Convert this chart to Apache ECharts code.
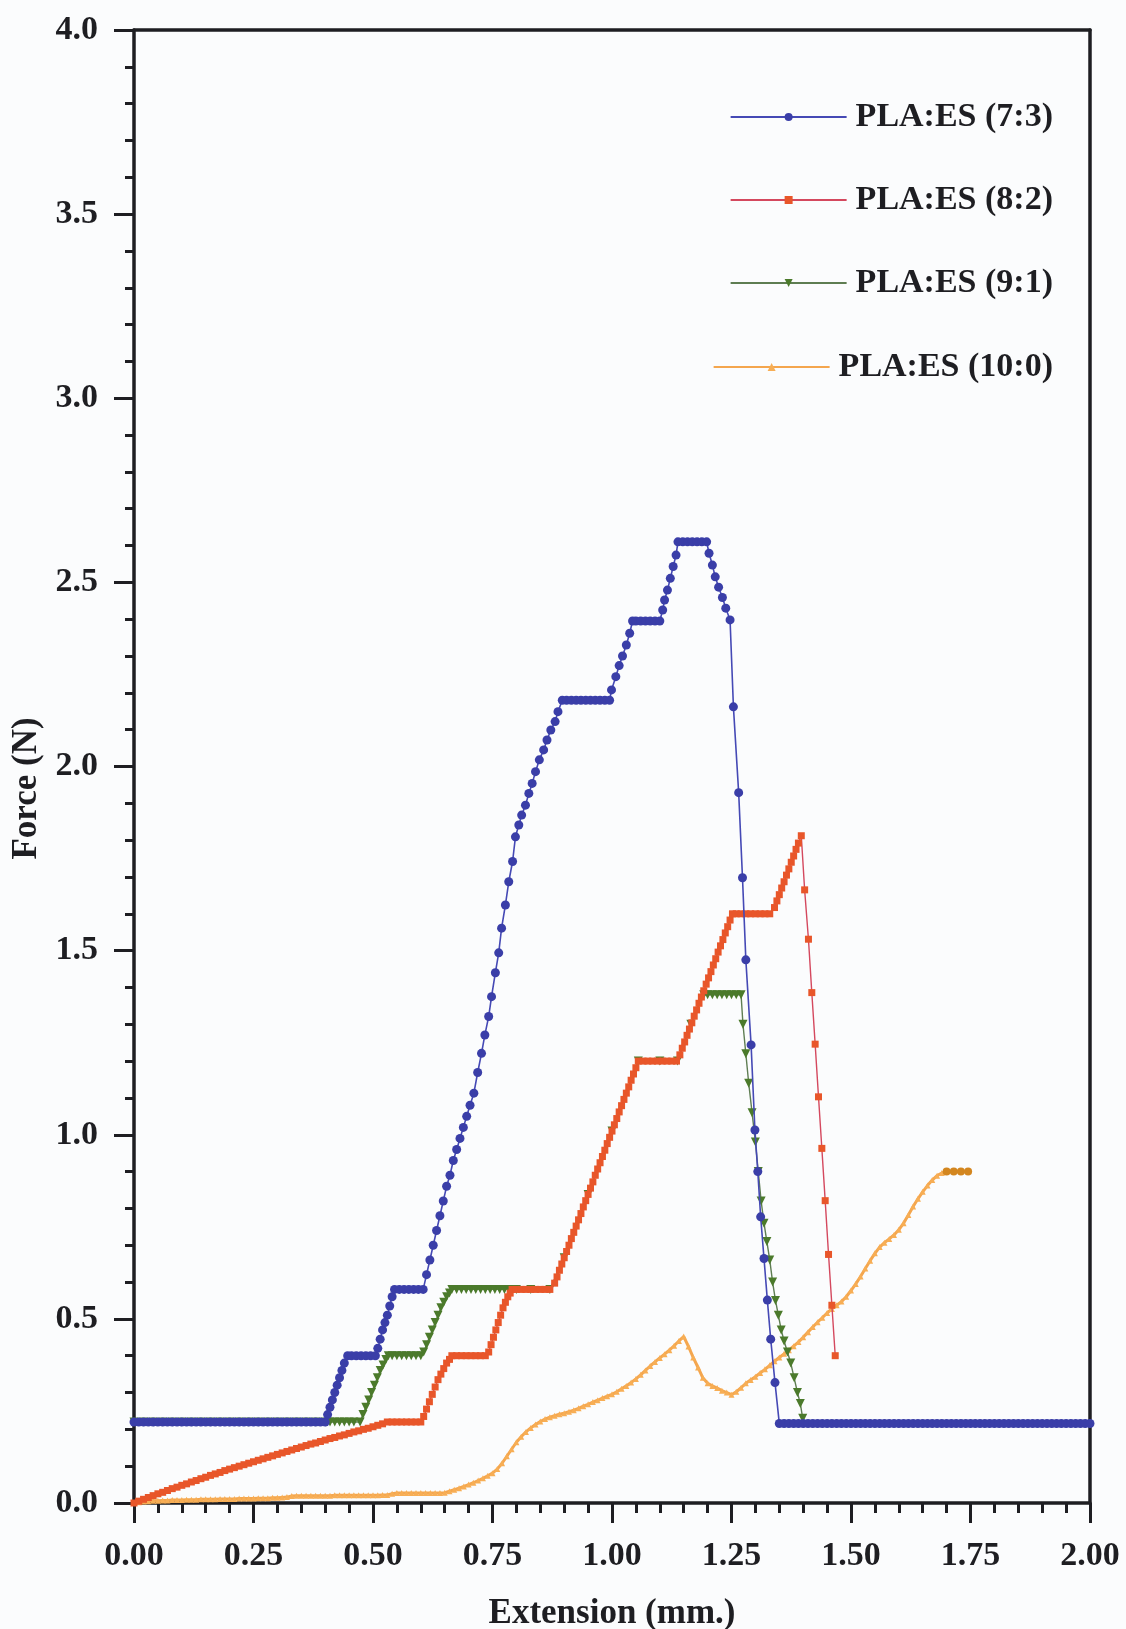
<!DOCTYPE html>
<html>
<head>
<meta charset="utf-8">
<script src="https://cdn.jsdelivr.net/npm/echarts@6/dist/echarts.min.js"></script>
<style>
html,body{margin:0;padding:0;background:#fbfcfd;}
#chart{width:1126px;height:1629px;}
</style>
</head>
<body>
<div id="chart"></div>
<script>
// ---- data (Extension mm, Force N) ----
const seriesNames = ['PLA:ES (7:3)', 'PLA:ES (8:2)', 'PLA:ES (9:1)', 'PLA:ES (10:0)'];

const pla73 = [
[0.00,0.22],[0.01,0.22],[0.02,0.22],[0.03,0.22],[0.04,0.22],[0.05,0.22],[0.06,0.22],[0.07,0.22],[0.08,0.22],[0.09,0.22],
[0.10,0.22],[0.11,0.22],[0.12,0.22],[0.13,0.22],[0.14,0.22],[0.15,0.22],[0.16,0.22],[0.17,0.22],[0.18,0.22],[0.19,0.22],
[0.20,0.22],[0.21,0.22],[0.22,0.22],[0.23,0.22],[0.24,0.22],[0.25,0.22],[0.26,0.22],[0.27,0.22],[0.28,0.22],[0.29,0.22],
[0.30,0.22],[0.31,0.22],[0.32,0.22],[0.33,0.22],[0.34,0.22],[0.35,0.22],[0.36,0.22],[0.37,0.22],[0.38,0.22],[0.39,0.22],[0.40,0.22],
[0.405,0.24],[0.41,0.26],[0.415,0.28],[0.42,0.30],[0.425,0.32],[0.43,0.34],[0.435,0.36],[0.44,0.38],[0.447,0.40],
[0.455,0.40],[0.465,0.40],[0.475,0.40],[0.485,0.40],[0.495,0.40],[0.505,0.40],
[0.51,0.42],[0.515,0.445],[0.52,0.47],[0.525,0.49],[0.53,0.51],[0.535,0.535],[0.54,0.56],[0.545,0.58],
[0.555,0.58],[0.565,0.58],[0.575,0.58],[0.585,0.58],[0.595,0.58],[0.605,0.58],
[0.612,0.62],[0.619,0.66],[0.626,0.70],[0.633,0.74],[0.640,0.78],[0.647,0.82],[0.654,0.86],[0.661,0.89],[0.668,0.93],
[0.675,0.96],[0.682,0.99],[0.689,1.02],[0.696,1.05],[0.703,1.08],
[0.711,1.113],[0.719,1.169],[0.727,1.221],[0.734,1.271],[0.742,1.321],[0.748,1.375],[0.756,1.44],[0.763,1.494],
[0.769,1.561],[0.777,1.624],[0.784,1.687],[0.792,1.742],[0.798,1.809],[0.805,1.841],[0.811,1.868],[0.819,1.895],
[0.826,1.927],[0.833,1.954],[0.840,1.986],[0.848,2.018],[0.857,2.045],[0.864,2.072],[0.872,2.099],[0.881,2.122],
[0.887,2.149],[0.896,2.18],
[0.905,2.18],[0.915,2.18],[0.925,2.18],[0.935,2.18],[0.945,2.18],[0.955,2.18],[0.965,2.18],[0.975,2.18],[0.985,2.18],[0.995,2.18],
[0.999,2.208],[1.008,2.244],[1.015,2.274],[1.022,2.30],[1.030,2.33],[1.037,2.362],[1.043,2.395],
[1.05,2.395],[1.06,2.395],[1.07,2.395],[1.08,2.395],[1.09,2.395],[1.10,2.395],
[1.106,2.425],[1.110,2.452],[1.116,2.479],[1.122,2.511],[1.128,2.543],[1.134,2.574],[1.138,2.61],
[1.148,2.61],[1.158,2.61],[1.168,2.61],[1.178,2.61],[1.188,2.61],[1.198,2.61],
[1.203,2.579],[1.210,2.547],[1.216,2.515],[1.223,2.487],[1.231,2.459],[1.238,2.43],[1.247,2.398],
[1.254,2.162],[1.265,1.929],[1.273,1.698],[1.280,1.475],[1.291,1.244],[1.299,1.013],
[1.305,0.90],[1.311,0.777],[1.318,0.664],[1.325,0.551],[1.332,0.445],[1.341,0.327],[1.350,0.216],
[1.36,0.216],[1.37,0.216],[1.38,0.216],[1.39,0.216],[1.40,0.216],[1.41,0.216],[1.42,0.216],[1.43,0.216],[1.44,0.216],
[1.45,0.216],[1.46,0.216],[1.47,0.216],[1.48,0.216],[1.49,0.216],[1.50,0.216],[1.51,0.216],[1.52,0.216],[1.53,0.216],
[1.54,0.216],[1.55,0.216],[1.56,0.216],[1.57,0.216],[1.58,0.216],[1.59,0.216],[1.60,0.216],[1.61,0.216],[1.62,0.216],
[1.63,0.216],[1.64,0.216],[1.65,0.216],[1.66,0.216],[1.67,0.216],[1.68,0.216],[1.69,0.216],[1.70,0.216],[1.71,0.216],
[1.72,0.216],[1.73,0.216],[1.74,0.216],[1.75,0.216],[1.76,0.216],[1.77,0.216],[1.78,0.216],[1.79,0.216],[1.80,0.216],
[1.81,0.216],[1.82,0.216],[1.83,0.216],[1.84,0.216],[1.85,0.216],[1.86,0.216],[1.87,0.216],[1.88,0.216],[1.89,0.216],
[1.90,0.216],[1.91,0.216],[1.92,0.216],[1.93,0.216],[1.94,0.216],[1.95,0.216],[1.96,0.216],[1.97,0.216],[1.98,0.216],
[1.99,0.216],[2.00,0.216]
];

const pla82 = [
[0.00,0.000],[0.01,0.005],[0.02,0.010],[0.03,0.015],[0.04,0.020],[0.05,0.025],[0.06,0.029],[0.07,0.034],[0.08,0.039],[0.09,0.043],
[0.10,0.048],[0.11,0.052],[0.12,0.057],[0.13,0.061],[0.14,0.066],[0.15,0.070],[0.16,0.075],[0.17,0.079],[0.18,0.083],[0.19,0.088],
[0.20,0.092],[0.21,0.096],[0.22,0.100],[0.23,0.104],[0.24,0.108],[0.25,0.112],[0.26,0.116],[0.27,0.120],[0.28,0.124],[0.29,0.128],
[0.30,0.132],[0.31,0.136],[0.32,0.140],[0.33,0.144],[0.34,0.148],[0.35,0.152],[0.36,0.156],[0.37,0.160],[0.38,0.163],[0.39,0.167],
[0.40,0.171],[0.41,0.175],[0.42,0.178],[0.43,0.182],[0.44,0.185],[0.45,0.189],[0.46,0.193],[0.47,0.196],[0.48,0.200],[0.49,0.203],
[0.50,0.207],[0.51,0.211],[0.52,0.215],[0.53,0.220],
[0.54,0.22],[0.55,0.22],[0.56,0.22],[0.57,0.22],[0.58,0.22],[0.59,0.22],[0.60,0.22],
[0.606,0.235],[0.612,0.255],[0.618,0.275],[0.624,0.295],[0.630,0.315],[0.636,0.335],[0.642,0.35],[0.648,0.365],[0.654,0.38],[0.660,0.39],[0.665,0.40],
[0.675,0.40],[0.685,0.40],[0.695,0.40],[0.705,0.40],[0.715,0.40],[0.725,0.40],[0.735,0.40],
[0.742,0.41],[0.747,0.43],[0.752,0.45],[0.757,0.47],[0.762,0.49],[0.767,0.51],[0.772,0.53],[0.777,0.545],[0.782,0.56],[0.787,0.57],[0.791,0.58],
[0.80,0.58],[0.81,0.58],[0.82,0.58],[0.83,0.58],[0.84,0.58],[0.85,0.58],[0.86,0.58],[0.87,0.58],
[0.880,0.597],[0.885,0.614],[0.890,0.632],[0.895,0.649],[0.900,0.666],[0.905,0.683],[0.910,0.700],[0.915,0.718],[0.920,0.735],
[0.925,0.752],[0.930,0.769],[0.935,0.786],[0.940,0.804],[0.945,0.821],[0.950,0.838],[0.955,0.855],[0.960,0.872],[0.965,0.890],
[0.970,0.907],[0.975,0.924],[0.980,0.941],[0.985,0.958],[0.990,0.976],[0.995,0.993],[1.000,1.010],[1.005,1.027],[1.010,1.044],
[1.015,1.062],[1.020,1.079],[1.025,1.096],[1.030,1.113],[1.035,1.130],[1.040,1.148],[1.045,1.165],[1.050,1.182],[1.055,1.200],
[1.065,1.20],[1.075,1.20],[1.085,1.20],[1.095,1.20],[1.105,1.20],[1.115,1.20],[1.125,1.20],[1.135,1.20],
[1.142,1.217],[1.147,1.235],[1.152,1.252],[1.157,1.270],[1.162,1.287],[1.167,1.304],[1.172,1.322],[1.177,1.339],[1.182,1.357],
[1.187,1.374],[1.192,1.391],[1.197,1.409],[1.202,1.426],[1.207,1.443],[1.212,1.461],[1.217,1.478],[1.222,1.496],[1.227,1.513],
[1.232,1.530],[1.237,1.548],[1.242,1.565],[1.247,1.583],[1.252,1.600],
[1.26,1.60],[1.27,1.60],[1.28,1.60],[1.29,1.60],[1.30,1.60],[1.31,1.60],[1.32,1.60],[1.33,1.60],
[1.340,1.617],[1.345,1.635],[1.350,1.652],[1.355,1.670],[1.360,1.687],[1.365,1.705],[1.370,1.722],[1.375,1.740],[1.380,1.757],
[1.385,1.775],[1.390,1.792],[1.396,1.812],
[1.403,1.665],[1.411,1.531],[1.418,1.386],[1.425,1.246],[1.432,1.103],[1.439,0.963],[1.446,0.821],[1.453,0.675],[1.460,0.537],[1.467,0.40]
];

const pla91 = [
[0.00,0.22],[0.02,0.22],[0.04,0.22],[0.06,0.22],[0.08,0.22],[0.10,0.22],[0.12,0.22],[0.14,0.22],[0.16,0.22],[0.18,0.22],
[0.20,0.22],[0.22,0.22],[0.24,0.22],[0.26,0.22],[0.28,0.22],[0.30,0.22],[0.32,0.22],[0.34,0.22],[0.36,0.22],[0.38,0.22],
[0.40,0.22],[0.41,0.22],[0.42,0.22],[0.43,0.22],[0.44,0.22],[0.45,0.22],[0.46,0.22],[0.473,0.22],
[0.479,0.24],[0.485,0.26],[0.491,0.28],[0.497,0.30],[0.503,0.32],[0.509,0.34],[0.515,0.36],[0.521,0.375],[0.527,0.39],[0.532,0.40],
[0.54,0.40],[0.55,0.40],[0.56,0.40],[0.57,0.40],[0.58,0.40],[0.59,0.40],[0.60,0.40],
[0.606,0.41],[0.612,0.43],[0.618,0.45],[0.624,0.47],[0.630,0.49],[0.636,0.51],[0.642,0.53],[0.648,0.545],[0.654,0.56],[0.660,0.57],[0.665,0.58],
[0.675,0.58],[0.685,0.58],[0.695,0.58],[0.705,0.58],[0.715,0.58],[0.725,0.58],[0.735,0.58],[0.745,0.58],[0.755,0.58],[0.765,0.58],
[0.775,0.58],[0.785,0.58],[0.80,0.58],[0.83,0.58],[0.87,0.58],
[0.90,0.666],[0.95,0.838],[1.00,1.010],[1.055,1.20],[1.10,1.20],[1.137,1.20],[1.165,1.30],[1.192,1.38],
[1.20,1.38],[1.21,1.38],[1.22,1.38],[1.23,1.38],[1.24,1.38],[1.25,1.38],[1.26,1.38],[1.27,1.38],
[1.274,1.30],[1.280,1.22],[1.286,1.14],[1.293,1.06],[1.300,0.98],[1.306,0.90],[1.312,0.82],[1.318,0.76],[1.324,0.71],
[1.330,0.66],[1.336,0.60],[1.342,0.55],[1.348,0.51],[1.354,0.47],[1.360,0.44],[1.367,0.41],[1.374,0.38],[1.381,0.34],
[1.388,0.30],[1.394,0.27],[1.399,0.23]
];

const pla100 = [
[0.00,0.000],[0.01,0.002],[0.02,0.004],[0.03,0.005],[0.04,0.006],[0.05,0.006],[0.06,0.007],[0.07,0.007],[0.08,0.008],[0.09,0.008],
[0.10,0.008],[0.11,0.009],[0.12,0.009],[0.13,0.009],[0.14,0.010],[0.15,0.010],[0.16,0.010],[0.17,0.010],[0.18,0.011],[0.19,0.011],
[0.20,0.011],[0.21,0.011],[0.22,0.012],[0.23,0.012],[0.24,0.012],[0.25,0.012],[0.26,0.013],[0.27,0.013],[0.28,0.013],[0.29,0.014],
[0.30,0.014],[0.31,0.015],[0.32,0.016],[0.33,0.019],[0.34,0.020],[0.35,0.020],[0.36,0.020],[0.37,0.020],[0.38,0.020],[0.39,0.020],
[0.40,0.020],[0.41,0.020],[0.42,0.021],[0.43,0.021],[0.44,0.021],[0.45,0.021],[0.46,0.021],[0.47,0.021],[0.48,0.021],[0.49,0.021],
[0.50,0.021],[0.51,0.021],[0.52,0.022],[0.53,0.022],[0.54,0.025],[0.55,0.027],[0.56,0.027],[0.57,0.027],[0.58,0.027],[0.59,0.027],
[0.60,0.027],[0.61,0.027],[0.62,0.027],[0.63,0.027],[0.64,0.027],[0.65,0.028],[0.66,0.032],[0.67,0.036],[0.68,0.040],[0.69,0.045],
[0.70,0.050],[0.71,0.055],[0.72,0.061],[0.73,0.067],[0.74,0.074],[0.75,0.081],[0.76,0.092],[0.77,0.108],[0.78,0.127],[0.79,0.146],
[0.80,0.165],[0.81,0.180],[0.82,0.193],[0.83,0.204],[0.84,0.213],[0.85,0.221],[0.86,0.228],[0.87,0.233],[0.88,0.237],[0.89,0.241],
[0.90,0.244],[0.91,0.248],[0.92,0.252],[0.93,0.257],[0.94,0.263],[0.95,0.268],[0.96,0.274],[0.97,0.279],[0.98,0.285],[0.99,0.290],
[1.00,0.295],[1.01,0.302],[1.02,0.310],[1.03,0.318],[1.04,0.327],[1.05,0.337],[1.06,0.348],[1.07,0.360],[1.08,0.372],[1.09,0.383],
[1.10,0.394],[1.11,0.404],[1.12,0.415],[1.13,0.427],[1.14,0.440],[1.15,0.452],[1.16,0.425],[1.17,0.395],[1.18,0.368],[1.19,0.340],
[1.20,0.325],[1.21,0.318],[1.22,0.312],[1.23,0.305],[1.24,0.300],[1.25,0.294],[1.26,0.302],[1.27,0.313],[1.28,0.325],[1.29,0.334],
[1.30,0.343],[1.31,0.353],[1.32,0.363],[1.33,0.374],[1.34,0.385],[1.35,0.395],[1.36,0.405],[1.37,0.415],[1.38,0.426],[1.39,0.437],
[1.40,0.450],[1.41,0.464],[1.42,0.478],[1.43,0.491],[1.44,0.503],[1.45,0.516],[1.46,0.527],[1.47,0.537],[1.48,0.547],[1.49,0.560],
[1.50,0.577],[1.51,0.595],[1.52,0.615],[1.53,0.637],[1.54,0.658],[1.55,0.678],[1.56,0.695],[1.57,0.707],[1.58,0.717],[1.59,0.728],
[1.60,0.742],[1.61,0.760],[1.62,0.782],[1.63,0.805],[1.64,0.826],[1.65,0.845],[1.66,0.862],[1.67,0.877],[1.68,0.889],[1.69,0.896],
[1.700,0.900],[1.715,0.900],[1.730,0.900],[1.745,0.900]
];
// number of trailing 10:0 points drawn as darker dots
const pla100EndCount = 4;

// ---- styling ----
const FONT = '"Liberation Serif", "DejaVu Serif", serif';
const INK = '#1e1e22';
const legendTops = [95, 178, 261, 345];

const axisCommon = {
  axisLine: { show: true, onZero: false, lineStyle: { color: INK, width: 3.5 } },
  splitLine: { show: false },
};

const chart = echarts.init(document.getElementById('chart'), null, { renderer: 'canvas' });

const orangeData = pla100.map((p, i) => {
  if (i >= pla100.length - pla100EndCount) {
    return { value: p, symbol: 'circle', symbolSize: 8, itemStyle: { color: '#d3861f' } };
  }
  return p;
});

const option = {
  backgroundColor: '#fbfcfd',
  animation: false,
  grid: { left: 134, top: 30, width: 956, height: 1473, containLabel: false, outerBoundsMode: 'none' },
  legend: seriesNames.map((n, i) => ({
    data: [n],
    right: 68,
    top: legendTops[i],
    itemWidth: 116,
    itemHeight: 10,
    selectedMode: false,
    textStyle: { fontFamily: FONT, fontWeight: 'bold', fontSize: 34, color: INK, padding: [0, 0, 0, 4] },
  })),
  xAxis: [
    Object.assign({}, axisCommon, {
      type: 'value', min: 0, max: 2, interval: 0.25, position: 'bottom',
      axisTick: { show: true, inside: false, length: 20, lineStyle: { color: INK, width: 3 } },
      minorTick: { show: true, splitNumber: 5, length: 10, lineStyle: { color: INK, width: 3 } },
      axisLabel: { margin: 36, fontFamily: FONT, fontWeight: 'bold', fontSize: 34, color: INK,
        formatter: v => v.toFixed(2) },
      name: 'Extension (mm.)', nameLocation: 'middle', nameGap: 93,
      nameTextStyle: { fontFamily: FONT, fontWeight: 'bold', fontSize: 35, color: INK },
    }),
    Object.assign({}, axisCommon, {
      type: 'value', min: 0, max: 2, position: 'top',
      axisTick: { show: false }, axisLabel: { show: false },
    }),
  ],
  yAxis: [
    Object.assign({}, axisCommon, {
      type: 'value', min: 0, max: 4, interval: 0.5, position: 'left',
      axisTick: { show: true, inside: false, length: 20, lineStyle: { color: INK, width: 3 } },
      minorTick: { show: true, splitNumber: 5, length: 9, lineStyle: { color: INK, width: 3 } },
      axisLabel: { margin: 36, fontFamily: FONT, fontWeight: 'bold', fontSize: 34, color: INK,
        formatter: v => v.toFixed(1) },
      name: 'Force (N)', nameLocation: 'middle', nameGap: 74, nameRotate: 90,
      nameTextStyle: { fontFamily: FONT, fontWeight: 'bold', fontSize: 35, color: INK, padding: [0, 44, 0, 0] },
    }),
    Object.assign({}, axisCommon, {
      type: 'value', min: 0, max: 4, position: 'right',
      axisTick: { show: false }, axisLabel: { show: false },
    }),
  ],
  series: [
    {
      name: seriesNames[0], type: 'line', data: pla73, z: 5,
      symbol: 'circle', symbolSize: 9, showAllSymbol: true,
      lineStyle: { color: '#4549b5', width: 1.6 },
      itemStyle: { color: '#3a3ea8' },
    },
    {
      name: seriesNames[1], type: 'line', data: pla82, z: 4,
      symbol: 'rect', symbolSize: 7, showAllSymbol: true,
      lineStyle: { color: '#d4485e', width: 1.4 },
      itemStyle: { color: '#e8562a' },
    },
    {
      name: seriesNames[2], type: 'line', data: pla91, z: 3,
      symbol: 'triangle', symbolRotate: 180, symbolSize: 9, showAllSymbol: true,
      lineStyle: { color: '#5e7d52', width: 1.4 },
      itemStyle: { color: '#4b7a2b' },
    },
    {
      name: seriesNames[3], type: 'line', data: orangeData, z: 2,
      symbol: 'triangle', symbolSize: 6, showAllSymbol: true,
      lineStyle: { color: '#f4a64e', width: 3 },
      itemStyle: { color: '#f7ae55' },
    },
  ],
};

chart.setOption(option);
</script>
</body>
</html>
